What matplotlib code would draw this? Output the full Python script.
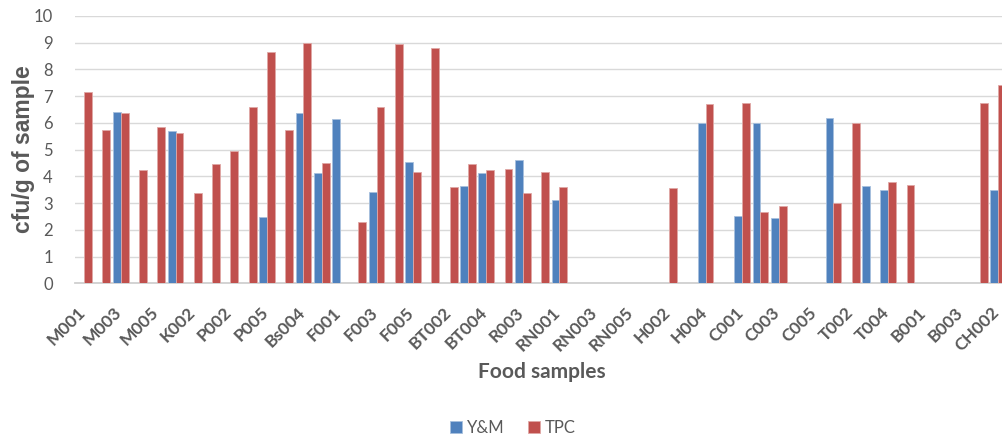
import numpy as np
import matplotlib
matplotlib.use('Agg')
import matplotlib.pyplot as plt
from matplotlib.transforms import ScaledTranslation

# food sample codes, every other one is labelled on the axis
samples = ['M001', 'M002', 'M003', 'M004', 'M005', 'K001', 'K002', 'P001', 'P002', 'P004',
           'P005', 'Bs003', 'Bs004', 'Bs005', 'F001', 'F002', 'F003', 'F004', 'F005', 'BT001',
           'BT002', 'BT003', 'BT004', 'R002', 'R003', 'R004', 'RN001', 'RN002', 'RN003', 'RN004',
           'RN005', 'H001', 'H002', 'H003', 'H004', 'H005', 'C001', 'C002', 'C003', 'C004',
           'C005', 'T001', 'T002', 'T003', 'T004', 'T005', 'B001', 'B002', 'B003', 'CH001',
           'CH002']

# log cfu/g, 0 = not detected
ym = [0, 0, 6.40, 0, 0, 5.68, 0, 0, 0, 0,
      2.48, 0, 6.36, 4.11, 6.13, 0, 3.42, 0, 4.53, 0,
      0, 3.64, 4.13, 0, 4.60, 0, 3.12, 0, 0, 0,
      0, 0, 0, 0, 5.98, 0, 2.50, 5.98, 2.44, 0,
      0, 6.17, 0, 3.64, 3.49, 0, 0, 0, 0, 0,
      3.50]
tpc = [7.17, 5.73, 6.38, 4.22, 5.84, 5.62, 3.37, 4.46, 4.93, 6.59,
       8.63, 5.72, 8.98, 4.51, 0, 2.28, 6.61, 8.93, 4.16, 8.81,
       3.59, 4.46, 4.23, 4.27, 3.36, 4.17, 3.62, 0, 0, 0,
       0, 0, 3.55, 0, 6.69, 0, 6.76, 2.66, 2.88, 0,
       0, 3.01, 5.98, 0, 3.80, 3.66, 0, 0, 0, 6.74,
       7.41]

blue = '#4F81BD'
red = '#C0504D'
grey = '#595959'

fig = plt.figure(figsize=(10.02, 4.40), dpi=100)
ax = fig.add_axes([0.0749, 0.356, 0.9251, 0.608])

x = np.arange(len(samples))
w = 0.43
ax.bar(x - w / 2, ym, w, color=blue, edgecolor='#A7C0DE', linewidth=0.6, label='Y&M', zorder=3)
ax.bar(x + w / 2, tpc, w, color=red, edgecolor='#E0A8A6', linewidth=0.6, label='TPC', zorder=3)

ax.set_xlim(-0.5, len(samples) - 1 + 0.22)
ax.set_ylim(0, 10)
ax.set_yticks(range(0, 11))
ax.yaxis.grid(True, color='#D9D9D9', linewidth=1.0, zorder=0)
ax.set_axisbelow(True)
for s in ['top', 'right', 'left']:
    ax.spines[s].set_visible(False)
ax.spines['bottom'].set_color('#D0D0D0')
ax.spines['bottom'].set_linewidth(1.3)
ax.tick_params(axis='both', length=0)
ax.tick_params(axis='y', pad=16, labelsize=12, labelcolor=grey)
for t in ax.get_yticklabels():
    t.set_fontfamily('Lato')

ax.set_xticks(x[::2])
ax.set_xticklabels(samples[::2], rotation=45, ha='right', va='top',
                   rotation_mode='anchor', fontsize=12.5, fontweight='bold',
                   color=grey, family='Lato')
ax.tick_params(axis='x', pad=12)
# nudge the slanted labels so their ends sit under the ticks
shift = ScaledTranslation(-5 / 72, -3 / 72, fig.dpi_scale_trans)
for t in ax.get_xticklabels():
    t.set_transform(t.get_transform() + shift)

fig.text(0.023, 0.66, 'cfu/g of sample', rotation=90, ha='center', va='center',
         fontsize=16.5, fontweight='bold', color=grey, family='Liberation Sans')
fig.text(0.541, 0.155, 'Food samples', ha='center', va='center', fontsize=15,
         fontweight='bold', color=grey, family='Lato')

fig.legend(loc='center', bbox_to_anchor=(0.512, 0.027), ncol=2, frameon=False,
           prop={'family': 'Lato', 'size': 12}, labelcolor=grey,
           handlelength=0.7, handleheight=0.7, handletextpad=0.3, columnspacing=1.4)

fig.savefig('out.png', dpi=100)
